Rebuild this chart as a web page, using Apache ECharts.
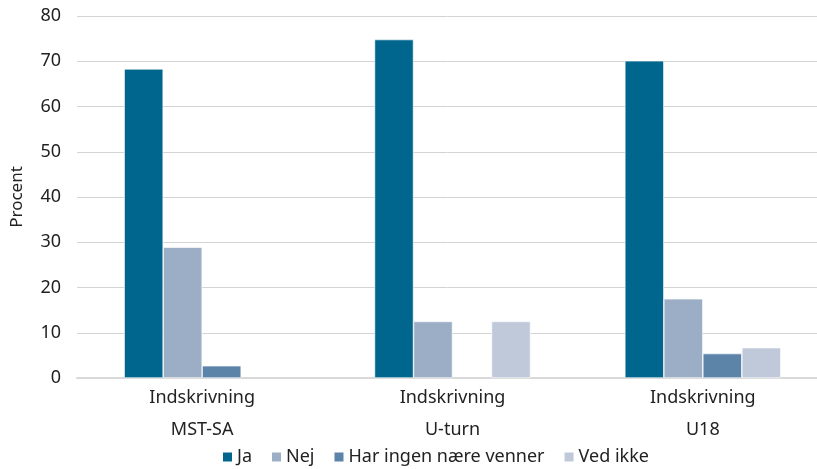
<!DOCTYPE html>
<html><head><meta charset="utf-8">
<script src="https://cdn.jsdelivr.net/npm/echarts@6/dist/echarts.min.js"></script>
<style>html,body{margin:0;padding:0;background:#fff}#c{width:817px;height:469px}</style>
</head><body><div id="c"></div>
<script>
const categories = ["Indskrivning\nMST-SA", "Indskrivning\nU-turn", "Indskrivning\nU18"];
const seriesNames = ["Ja", "Nej", "Har ingen nære venner", "Ved ikke"];
const ja = [68.3, 74.8, 70.1];
const nej = [28.9, 12.5, 17.5];
const harIngen = [2.7, null, 5.4];
const vedIkke = [null, 12.5, 6.7];
const colors = ["#00668e", "#9caec5", "#5b84a8", "#bfc9da"];
const values = [ja, nej, harIngen, vedIkke];
const font = "Noto Sans";
const chart = echarts.init(document.getElementById('c'), null, {renderer: 'canvas'});
chart.setOption({
  animation: false,
  grid: {left: 77, width: 751, top: 16, height: 362, outerBoundsMode: 'none', containLabel: false},
  legend: {
    top: 448, left: 221, itemWidth: 11, itemHeight: 11, itemGap: 18,
    icon: 'rect', padding: 0,
    textStyle: {fontFamily: font, fontSize: 18, color: '#222', padding: [0, 0, 0, -1]},
    data: seriesNames
  },
  xAxis: {
    type: 'category', data: categories,
    axisLine: {lineStyle: {color: '#d9d9d9', width: 2}},
    axisTick: {show: false},
    axisLabel: {fontFamily: font, fontSize: 18, color: '#222', lineHeight: 32, margin: 4}
  },
  yAxis: {
    type: 'value', min: 0, max: 80, interval: 10,
    name: 'Procent', nameLocation: 'middle', nameGap: 51, nameRotate: 90,
    nameTextStyle: {fontFamily: font, fontSize: 17, color: '#222'},
    axisLabel: {fontFamily: font, fontSize: 18, color: '#222', margin: 16},
    splitLine: {lineStyle: {color: '#d4d4d4', width: 1}},
    axisLine: {show: false}, axisTick: {show: false}
  },
  series: seriesNames.map((n, i) => ({
    name: n, type: 'bar', data: values[i], barWidth: 39, barGap: '0%',
    itemStyle: {color: colors[i], borderColor: '#ffffff', borderWidth: 0.6}
  }))
});
</script></body></html>
